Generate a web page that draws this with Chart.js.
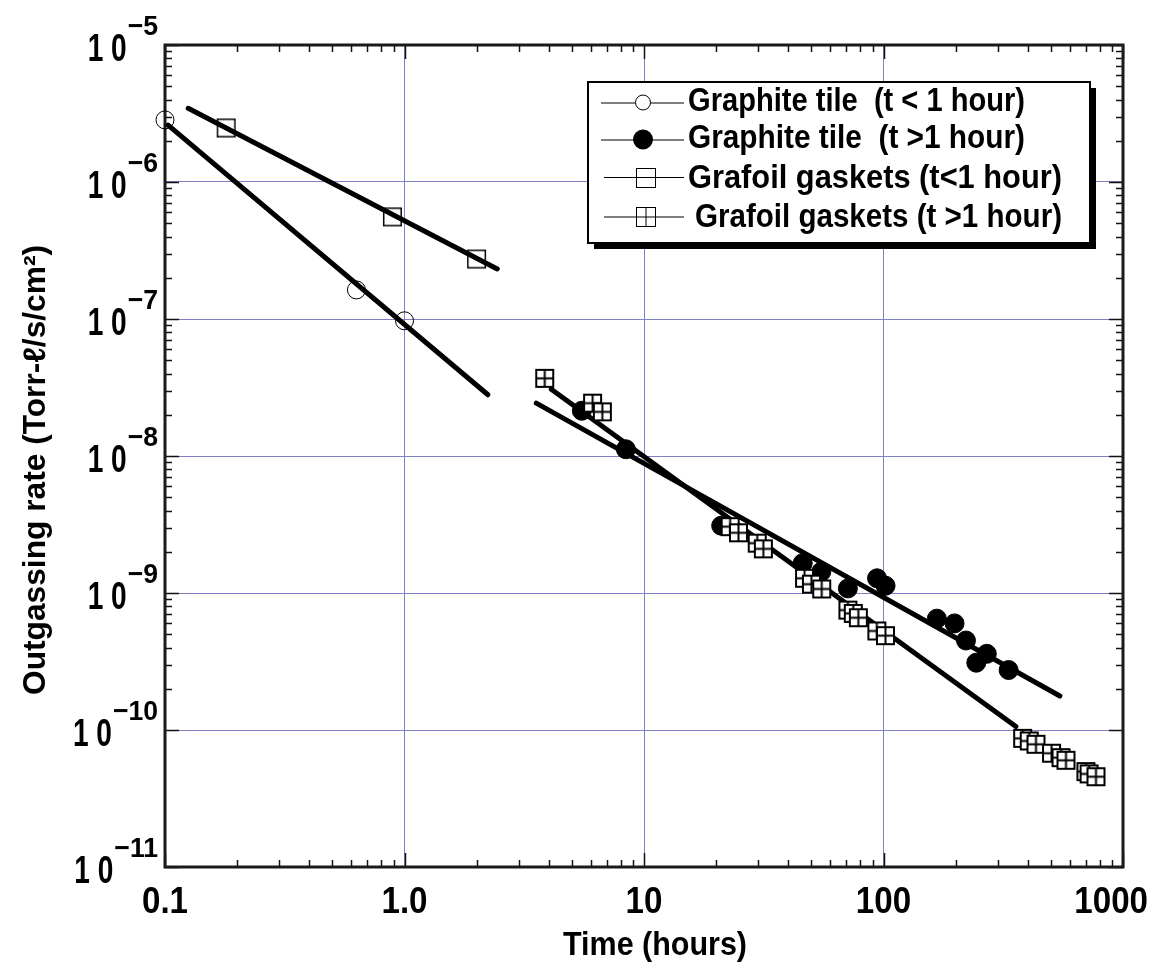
<!DOCTYPE html>
<html><head><meta charset="utf-8">
<script src="https://cdn.jsdelivr.net/npm/chart.js@4.4.1/dist/chart.umd.min.js"></script>
<style>html,body{margin:0;padding:0;background:#fff;}canvas{display:block;}</style>
</head><body>
<canvas id="c" width="1151" height="969"></canvas>
<script>
// ---------------- data ----------------
const seriesLabels = ['Graphite tile  (t < 1 hour)', 'Graphite tile  (t >1 hour)', 'Grafoil gaskets (t<1 hour)', 'Grafoil gaskets (t >1 hour)'];

const graphiteEarlyT = [0.1, 0.63, 1.0];
const graphiteEarlyV = [2.84e-6, 1.63e-7, 9.7e-8];

const graphiteLateT = [5.5, 8.4, 21, 46, 55, 71, 94, 102, 167, 198, 221, 244, 270, 333];
const graphiteLateV = [2.14e-8, 1.12e-8, 3.1e-9, 1.65e-9, 1.43e-9, 1.08e-9, 1.28e-9, 1.13e-9, 6.5e-10, 6.0e-10, 4.5e-10, 3.1e-10, 3.6e-10, 2.74e-10];

const grafoilEarlyT = [0.18, 0.89, 2.0];
const grafoilEarlyV = [2.48e-6, 5.56e-7, 2.74e-7];

const grafoilLateT = [3.85, 6.1, 6.7, 22.9, 24.8, 29.7, 31.5, 46.8, 50, 55.2, 71, 74.8, 78.5, 93.8, 101.9, 381, 406, 433, 503, 551, 578, 700, 722, 771];
const grafoilLateV = [3.69e-8, 2.43e-8, 2.10e-8, 3.05e-9, 2.75e-9, 2.31e-9, 2.10e-9, 1.28e-9, 1.16e-9, 1.07e-9, 7.5e-10, 7.1e-10, 6.6e-10, 5.28e-10, 4.88e-10, 8.69e-11, 8.32e-11, 7.87e-11, 6.77e-11, 6.28e-11, 6.01e-11, 4.97e-11, 4.78e-11, 4.56e-11];

// fitted lines (end points)
const fitGraphiteEarlyT = [0.103, 2.23];
const fitGraphiteEarlyV = [2.6e-6, 2.8e-8];
const fitGrafoilEarlyT = [0.125, 2.44];
const fitGrafoilEarlyV = [3.45e-6, 2.32e-7];
const fitGraphiteLateT = [3.55, 545];
const fitGraphiteLateV = [2.43e-8, 1.77e-10];
const fitGrafoilLateT = [4.1, 357];
const fitGrafoilLateV = [3.07e-8, 1.06e-10];

// axis ticks
const xTickValues = [0.1, 1, 10, 100, 1000];
const xTickLabels = ['0.1', '1.0', '10', '100', '1000'];
const yTickValues = [1e-5, 1e-6, 1e-7, 1e-8, 1e-9, 1e-10, 1e-11];
const yTickExponents = ['\u22125', '\u22126', '\u22127', '\u22128', '\u22129', '\u221210', '\u221211'];
const xTitle = 'Time (hours)';
const yTitle = 'Outgassing rate (Torr-\u2113/s/cm\u00B2)';

// ---------------- helpers ----------------
const zip = (a, b) => a.map((v, i) => ({x: v, y: b[i]}));
const FONT = "'Liberation Sans Narrow','Liberation Sans',Arial,sans-serif";
const GRID = '#8080c4';

function makeSquare(size, cross, fill, lw) {
  const pad = 2;
  const c = document.createElement('canvas');
  c.width = c.height = size + pad * 2;
  const g = c.getContext('2d');
  if (fill) { g.fillStyle = '#fff'; g.fillRect(pad, pad, size, size); }
  g.strokeStyle = '#000';
  g.lineWidth = lw;
  g.strokeRect(pad + lw / 2, pad + lw / 2, size - lw, size - lw);
  if (cross) {
    const m = pad + size / 2;
    g.beginPath();
    g.moveTo(m, pad); g.lineTo(m, pad + size);
    g.moveTo(pad, m); g.lineTo(pad + size, m);
    g.stroke();
  }
  return c;
}
const crossSq = makeSquare(19, true, true, 2);
const openSq = makeSquare(19, false, false, 1.5);

function drawScaled(ctx, text, x, y, font, sx, align) {
  ctx.save();
  ctx.font = font;
  ctx.textAlign = align;
  ctx.textBaseline = 'alphabetic';
  ctx.translate(x, y);
  ctx.scale(sx, 1);
  ctx.fillText(text, 0, 0);
  ctx.restore();
}
function textW(ctx, text, font) { ctx.save(); ctx.font = font; const w = ctx.measureText(text).width; ctx.restore(); return w; }
function drawFit(ctx, text, x, y, font, targetW, align) {
  const w = textW(ctx, text, font);
  drawScaled(ctx, text, x, y, font, targetW / w, align);
}

const decor = {
  id: 'decor',
  beforeDatasetsDraw(chart) {
    const ctx = chart.ctx;
    const {left, right, top, bottom} = chart.chartArea;
    const xs = chart.scales.x, ys = chart.scales.y;
    ctx.save();
    ctx.strokeStyle = '#111';
    ctx.lineWidth = 1.5;
    ctx.beginPath();
    xTickValues.forEach((d, i) => {
      const last = i === xTickValues.length - 1;
      for (let m = 1; m <= (last ? 1 : 9); m++) {
        const px = Math.round(xs.getPixelForValue(d * m)) + 0.5;
        const len = m === 1 ? 14 : 7;
        ctx.moveTo(px, bottom); ctx.lineTo(px, bottom - len);
        ctx.moveTo(px, top); ctx.lineTo(px, top + len);
      }
    });
    yTickValues.forEach((d, i) => {
      const last = i === yTickValues.length - 1;
      for (let m = 1; m <= (last ? 1 : 9); m++) {
        if (i === 0 && m > 1) continue;
        const v = d * m;
        const py = Math.round(ys.getPixelForValue(v)) + 0.5;
        const len = m === 1 ? 14 : 7;
        ctx.moveTo(left, py); ctx.lineTo(left + len, py);
        ctx.moveTo(right, py); ctx.lineTo(right - len, py);
      }
    });
    ctx.stroke();
    ctx.lineWidth = 3;
    ctx.strokeStyle = '#1a1a1a';
    ctx.strokeRect(left, top, right - left, bottom - top);
    ctx.restore();
  },
  afterDraw(chart) {
    const ctx = chart.ctx;
    const xs = chart.scales.x, ys = chart.scales.y;
    ctx.save();
    ctx.fillStyle = '#000';
    // x tick labels
    const xf = 'bold 36px ' + FONT;
    xTickValues.forEach((v, i) => {
      let px = xs.getPixelForValue(v);
      const w = textW(ctx, xTickLabels[i], xf) * 0.92;
      px = Math.min(px, 1148 - w / 2);
      drawScaled(ctx, xTickLabels[i], px, 913, xf, 0.92, 'center');
    });
    // y tick labels (10 with superscript exponent)
    const bf = 'bold 38px ' + FONT, ef = 'bold 28px ' + FONT;
    yTickValues.forEach((v, i) => {
      const py = ys.getPixelForValue(v);
      const ew = textW(ctx, yTickExponents[i], ef) * 0.95;
      drawScaled(ctx, yTickExponents[i], 158, py - 10, ef, 0.95, 'right');
      drawFit(ctx, '1 0', 158 - ew - 1, py + 16, bf, 39, 'right');
    });
    // axis titles
    drawFit(ctx, xTitle, 655, 955, 'bold 33px ' + FONT, 184, 'center');
    ctx.save();
    ctx.translate(45, 470);
    ctx.rotate(-Math.PI / 2);
    drawFit(ctx, yTitle, 0, 0, 'bold 31px ' + FONT, 450, 'center');
    ctx.restore();
    // legend
    const bx = 588, by = 82, bw = 502, bh = 161, sh = 6;
    ctx.fillStyle = '#000';
    ctx.fillRect(bx + sh, by + sh, bw, bh);
    ctx.fillStyle = '#fff';
    ctx.fillRect(bx, by, bw, bh);
    ctx.lineWidth = 2;
    ctx.strokeStyle = '#000';
    ctx.strokeRect(bx, by, bw, bh);
    const rowsY = [102.5, 139.5, 177, 216.5];
    const baseY = [110.5, 148, 188, 226.5];
    const textX = [688, 688, 688, 695];
    const textWd = [337, 337, 374, 367];
    const lf = 'bold 34px ' + FONT;
    seriesLabels.forEach((lab, i) => {
      const y = rowsY[i];
      const x0 = i < 2 ? 601 : 604;
      ctx.strokeStyle = '#000';
      ctx.lineWidth = 1;
      ctx.beginPath(); ctx.moveTo(x0, y + 0.5); ctx.lineTo(684, y + 0.5); ctx.stroke();
      if (i === 0) {
        ctx.fillStyle = '#fff';
        ctx.beginPath(); ctx.arc(643, y, 7.5, 0, Math.PI * 2); ctx.fill(); ctx.stroke();
      } else if (i === 1) {
        ctx.fillStyle = '#000';
        ctx.beginPath(); ctx.arc(643, y, 10, 0, Math.PI * 2); ctx.fill();
      } else {
        const s = 19, sx0 = 636, sy0 = Math.round(y - s / 2);
        ctx.strokeRect(sx0 + 0.5, sy0 + 0.5, s, s);
        if (i === 3) {
          ctx.beginPath(); ctx.moveTo(sx0 + 10, sy0); ctx.lineTo(sx0 + 10, sy0 + s + 1); ctx.stroke();
        }
      }
      ctx.fillStyle = '#000';
      drawFit(ctx, lab, textX[i], baseY[i], lf, textWd[i], 'left');
    });
    ctx.restore();
  }
};

const lineDs = (t, v) => ({
  type: 'line', data: zip(t, v), showLine: true, borderColor: '#000', borderWidth: 5,
  borderCapStyle: 'round', pointRadius: 0, fill: false, order: 5, clip: false
});

new Chart(document.getElementById('c'), {
  type: 'scatter',
  data: {
    datasets: [
      {label: seriesLabels[3], data: zip(grafoilLateT, grafoilLateV), pointStyle: crossSq, pointRadius: 11, order: 0, clip: false},
      {label: seriesLabels[2], data: zip(grafoilEarlyT, grafoilEarlyV), pointStyle: openSq, pointRadius: 11, order: 1, clip: false},
      {label: seriesLabels[1], data: zip(graphiteLateT, graphiteLateV), pointStyle: 'circle', pointRadius: 9.5, backgroundColor: '#000', borderColor: '#000', borderWidth: 1, order: 2, clip: false},
      {label: seriesLabels[0], data: zip(graphiteEarlyT, graphiteEarlyV), pointStyle: 'circle', pointRadius: 9, backgroundColor: 'rgba(0,0,0,0)', borderColor: '#000', borderWidth: 1, order: 6, clip: false},
      lineDs(fitGraphiteEarlyT, fitGraphiteEarlyV),
      lineDs(fitGrafoilEarlyT, fitGrafoilEarlyV),
      lineDs(fitGraphiteLateT, fitGraphiteLateV),
      lineDs(fitGrafoilLateT, fitGrafoilLateV)
    ]
  },
  options: {
    responsive: false,
    animation: false,
    devicePixelRatio: 1,
    events: [],
    layout: {padding: {left: 165, right: 28, top: 45, bottom: 102}},
    plugins: {legend: {display: false}, tooltip: {enabled: false}},
    scales: {
      x: {
        type: 'logarithmic', min: 0.1, max: 1000,
        afterBuildTicks: ax => { ax.ticks = xTickValues.map(v => ({value: v})); },
        ticks: {display: false},
        grid: {color: GRID, lineWidth: 1, drawTicks: false},
        border: {display: false},
        title: {display: false}
      },
      y: {
        type: 'logarithmic', min: 1e-11, max: 1e-5,
        afterBuildTicks: ax => { ax.ticks = yTickValues.map(v => ({value: v})); },
        ticks: {display: false},
        grid: {color: GRID, lineWidth: 1, drawTicks: false},
        border: {display: false},
        title: {display: false}
      }
    }
  },
  plugins: [decor]
});
</script>
</body></html>
